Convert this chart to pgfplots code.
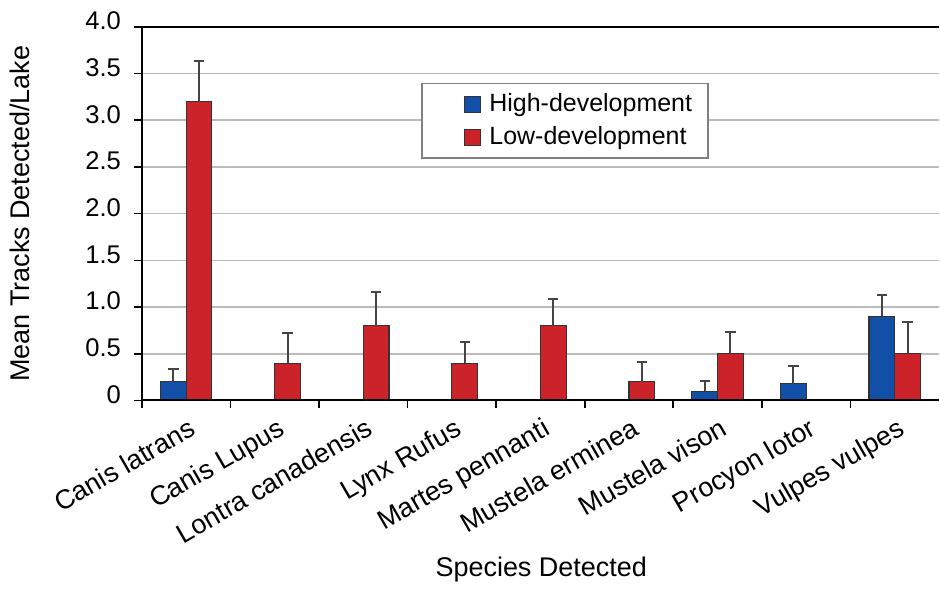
\documentclass[border=0pt]{standalone}
\usepackage{pgfplots}
\pgfplotsset{compat=1.18}
\usepackage{fontspec}
\setmainfont{Liberation Sans}
\definecolor{hiblue}{HTML}{1250A8}
\definecolor{lored}{HTML}{CC2229}
\definecolor{errgray}{HTML}{444444}
\definecolor{gridgray}{HTML}{BBBBBB}
\begin{document}
\begin{tikzpicture}
\begin{axis}[
    width=399pt, height=187pt, scale only axis,
    clip=false,
    ybar=0pt, bar width=0.29,
    xmin=-0.5, xmax=8.5,
    ymin=0, ymax=4,
    axis line style={draw=none},
    tick align=outside,
    xtick pos=bottom, ytick pos=left,
    major tick length=4pt,
    tick style={draw=black, line width=0.8pt},
    xtick={-0.5,0.5,...,7.5}, xticklabels={},
    extra x ticks={0,1,...,8},
    extra x tick labels={Canis latrans,Canis Lupus,Lontra canadensis,Lynx Rufus,Martes pennanti,Mustela erminea,Mustela vison,Procyon lotor,Vulpes vulpes},
    extra x tick style={major tick length=0pt,
        xticklabel style={rotate=30, anchor=north east, xshift=0pt, yshift=-4pt,
            font=\fontsize{13.5pt}{16pt}\selectfont}},
    ytick={0,0.5,...,4}, yticklabels={0,0.5,1.0,1.5,2.0,2.5,3.0,3.5,4.0},
    yticklabel style={yshift=3pt, xshift=-3pt},
    ymajorgrids=true,
    grid style={gridgray, line width=0.8pt},
    ticklabel style={font=\fontsize{12.8pt}{15pt}\selectfont},
    /pgf/number format/assume math mode=true,
    xlabel={Species Detected},
    ylabel={Mean Tracks Detected/Lake},
    every axis x label/.style={at={(rel axis cs:0.501,-0.452)}, anchor=center,
        font=\fontsize{13.5pt}{16pt}\selectfont},
    every axis y label/.style={at={(rel axis cs:-0.153,0.5)}, rotate=90, anchor=center,
        font=\fontsize{13.5pt}{16pt}\selectfont},
    legend style={at={(rel axis cs:0.531,0.749)}, anchor=center,
        draw=gray, line width=0.8pt, fill=white,
        font=\fontsize{12.5pt}{15pt}\selectfont,
        row sep=2pt, inner xsep=6pt, inner ysep=3pt},
    legend cell align=left,
    legend image code/.code={
        \path (-23pt,0pt) (2pt,0pt);
        \draw[#1, line width=0.6pt] (-8pt,-4pt) rectangle (0pt,4pt);
    },
    error bars/y dir=plus, error bars/y explicit,
    error bars/error bar style={errgray, line width=1pt},
    error bars/error mark options={errgray, line width=1pt, mark size=2.6pt, rotate=90},
]
\addplot[fill=hiblue, draw=black!80, line width=0.6pt] coordinates {
    (0,0.2) +- (0,0.14)
    (6,0.1) +- (0,0.11)
    (7,0.18) +- (0,0.19)
    (8,0.9) +- (0,0.23)
};
\addplot[fill=lored, draw=black!80, line width=0.6pt] coordinates {
    (0,3.2) +- (0,0.43)
    (1,0.4) +- (0,0.32)
    (2,0.8) +- (0,0.36)
    (3,0.4) +- (0,0.23)
    (4,0.8) +- (0,0.29)
    (5,0.2) +- (0,0.21)
    (6,0.5) +- (0,0.23)
    (8,0.5) +- (0,0.34)
};
\legend{High-development,Low-development}
\draw[black, line width=1pt] (rel axis cs:0,1) -- (rel axis cs:1,1);
\draw[black, line width=1pt] (rel axis cs:0,1) -- (rel axis cs:0,0) -- (rel axis cs:1,0);
\path (rel axis cs:-0.178,-0.489) rectangle (rel axis cs:1.0,1.072);
\end{axis}
\end{tikzpicture}
\end{document}
